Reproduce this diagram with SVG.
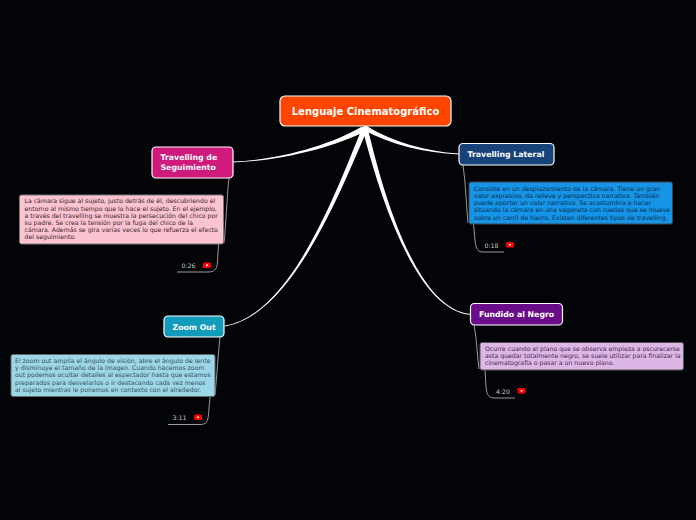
<svg xmlns="http://www.w3.org/2000/svg" width="696" height="520" viewBox="0 0 696 520">
<style>
text{opacity:.995}
.t{font-family:"DejaVu Sans",sans-serif;font-weight:bold;font-size:7.8px;fill:#fff}
.n{font-family:"DejaVu Sans",sans-serif;font-size:6.2px}
.d{font-family:"DejaVu Sans",sans-serif;font-size:6.2px;fill:#ccc}
.b{stroke:#fff;stroke-width:1.200}
.s{fill:none;stroke:#999;stroke-width:1}
.w{fill:#fff;stroke:none}
.y{fill:#f00}
.p{fill:#fff}
</style>
<rect width="696" height="520" fill="#030408"/>
<g id="connectors">
<path class="w" d="M361 127C329 145.500 280 159.500 233 161.600L233 162.400C280 160.800 331 148.500 368 130Z"/>
<path class="w" d="M368 127C393 141.500 425 151.500 459 153.600L459 154.400C425 153 391 145 362 129Z"/>
<path class="w" d="M362.500 127C333.500 199 289.600 314.600 225 325.600L225 326.400C290.400 315.400 336.500 201 367.500 129Z"/>
<path class="w" d="M362.500 129C383.500 211 419.600 310.400 470 314.800L470 313.800C420.400 309.600 386.500 209 367.500 127Z"/>
<path class="w" d="M360 129L371 129L365.500 125Z"/>
<path class="s" d="M229 178C227 195 226 225 224 243"/>
<path class="s" d="M218.500 244L217.500 262C217 270 214 272 208 272L177 272"/>
<path class="s" d="M220 337C218 355 217 375 215 395"/>
<path class="s" d="M210 397L208.500 414C208 422 206 424.500 200 424.500L168 424.500"/>
<path class="s" d="M463 165C466 185 466 205 468 223"/>
<path class="s" d="M473.500 224L475 240C476 250 478 252 484 252L504 252"/>
<path class="s" d="M474 325C477 340 477 355 479 369"/>
<path class="s" d="M485 370L486 387C487 396 489 398 495 398L515 398"/>
</g>
<g id="root">
<rect x="280" y="96" width="171" height="30" rx="5" fill="#ff4500" class="b"/>
<text x="365.500" y="115" text-anchor="middle" font-family="DejaVu Sans, sans-serif" font-weight="bold" font-size="10" fill="#fff">Lenguaje Cinematográfico</text>
</g>
<g id="travelling-seguimiento">
<rect x="152" y="147" width="81" height="31" rx="4" fill="#cf1a7c" class="b"/>
<text class="t" x="160.500" y="160">Travelling de</text>
<text class="t" x="160.500" y="170">Seguimiento</text>
</g>
<g id="nota-seguimiento">
<rect x="19.500" y="195" width="204" height="49" rx="2" fill="#fcc3d1" stroke="#777" stroke-width="1"/>
<g class="n" fill="#3a1f28">
<text x="24.500" y="203">La cámara sigue al sujeto, justo detrás de él, descubriendo el</text>
<text x="24.500" y="211">entorno al mismo tiempo que lo hace el sujeto. En el ejemplo,</text>
<text x="24.500" y="218">a través del travelling se muestra la persecución del chico por</text>
<text x="24.500" y="225">su padre. Se crea la tensión por la fuga del chico de la</text>
<text x="24.500" y="232">cámara. Además se gira varias veces lo que refuerza el efecto</text>
<text x="24.500" y="239">del seguimiento.</text>
</g>
</g>
<g id="video-seguimiento">
<text class="d" x="181.500" y="268">0:26</text>
<rect class="y" x="203" y="262.500" width="8" height="5.500" rx="1.500"/><circle class="p" cx="207" cy="265.200" r="1"/>
</g>
<g id="zoom-out">
<rect x="164" y="316" width="60" height="21" rx="4" fill="#129cbc" class="b"/>
<text class="t" x="172.500" y="330">Zoom Out</text>
</g>
<g id="nota-zoom">
<rect x="11" y="354.500" width="204" height="42" rx="2" fill="#9dd6e6" stroke="#666" stroke-width="1"/>
<g class="n" fill="#33525c">
<text x="15" y="363">El zoom out amplía el ángulo de visión, abre el ángulo de lente</text>
<text x="15" y="369.500">y disminuye el tamaño de la imagen. Cuando hacemos zoom</text>
<text x="15" y="377">out podemos ocultar detalles al espectador hasta que estamos</text>
<text x="15" y="384.500">preparados para desvelarlos o ir destacando cada vez menos</text>
<text x="15" y="391.500">al sujeto mientras le ponemos en contexto con el alrededor.</text>
</g>
</g>
<g id="video-zoom">
<text class="d" x="172.500" y="420">3:11</text>
<rect class="y" x="194" y="414.500" width="8" height="5.500" rx="1.500"/><circle class="p" cx="198" cy="417.200" r="1"/>
</g>
<g id="travelling-lateral">
<rect x="459" y="143.500" width="95" height="21.500" rx="4" fill="#17427a" class="b"/>
<text class="t" x="467.500" y="157">Travelling Lateral</text>
</g>
<g id="nota-lateral">
<rect x="469" y="182" width="203.500" height="42" rx="2" fill="#1594e8" stroke="#444" stroke-width="1"/>
<g class="n" fill="#0c2f4a">
<text x="474" y="191">Consiste en un desplazamiento de la cámara. Tiene un gran</text>
<text x="474" y="198">valor expresivo, da relieve y perspectiva narrativa. También</text>
<text x="474" y="205">puede aportar un valor narrativo. Se acostumbra a hacer</text>
<text x="474" y="212">situando la cámara en una vagoneta con ruedas que se mueve</text>
<text x="474" y="219.500">sobre un carril de hierro. Existen diferentes tipos de travelling.</text>
</g>
</g>
<g id="video-lateral">
<text class="d" x="484.500" y="248">0:18</text>
<rect class="y" x="506" y="242" width="8" height="5.500" rx="1.500"/><circle class="p" cx="510" cy="244.700" r="1"/>
</g>
<g id="fundido">
<rect x="470.500" y="303.500" width="92" height="21.500" rx="4" fill="#6a0c8a" class="b"/>
<text class="t" x="479" y="317">Fundido al Negro</text>
</g>
<g id="nota-fundido">
<rect x="480" y="342.500" width="203.500" height="27.500" rx="2" fill="#dcb6e4" stroke="#555" stroke-width="1"/>
<g class="n" fill="#4a2a55">
<text x="485" y="351">Ocurre cuando el plano que se observa empieza a oscurecerse</text>
<text x="485" y="358">asta quedar totalmente negro, se suele utilizar para finalizar la</text>
<text x="485" y="365">cinematografía o pasar a un nuevo plano.</text>
</g>
</g>
<g id="video-fundido">
<text class="d" x="496" y="394">4:20</text>
<rect class="y" x="517.500" y="388" width="8" height="5.500" rx="1.500"/><circle class="p" cx="521.500" cy="390.700" r="1"/>
</g>
</svg>
